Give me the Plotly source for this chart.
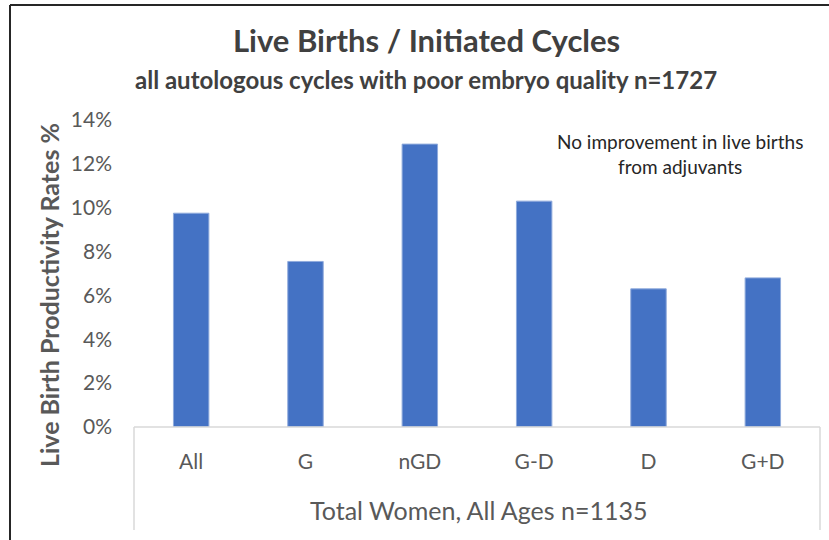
import plotly.graph_objs as go

# values (percent)
categories = ["All", "G", "nGD", "G-D", "D", "G+D"]
live_birth_rates = [9.75, 7.55, 12.9, 10.3, 6.3, 6.8]
y_ticks = [0, 2, 4, 6, 8, 10, 12, 14]
y_tick_labels = [f"{t}%" for t in y_ticks]

W, H = 829, 540
L, R, T, B = 134, 9, 120, 113
FONT = "Lato, Open Sans, sans-serif"
BAR_COLOR = "#4472C4"
TEXT_COLOR = "#595959"


def px_x(x):
    return (x - L) / (W - L - R)


def px_y(y):
    return (H - B - y) / (H - T - B)


fig = go.Figure()
fig.add_trace(go.Bar(
    x=categories,
    y=live_birth_rates,
    marker=dict(color=BAR_COLOR, line=dict(color="#8faadc", width=1)),
    showlegend=False
))

fig.update_layout(
    width=W,
    height=H,
    margin=dict(l=L, r=R, t=T, b=B),
    paper_bgcolor="white",
    plot_bgcolor="white",
    bargap=0.69,
    font=dict(family=FONT, color=TEXT_COLOR),
)
fig.update_yaxes(
    range=[0, 14],
    tickvals=y_ticks,
    ticktext=y_tick_labels,
    showgrid=False,
    zeroline=False,
    tickfont=dict(size=21, color=TEXT_COLOR),
    ticks="",
    ticklabelstandoff=21,
)
fig.update_xaxes(
    showline=False,
    tickfont=dict(size=21, color=TEXT_COLOR),
    ticks="",
    ticklabelstandoff=20,
)

annotations = [
    dict(text="<b>Live Births / Initiated Cycles</b>", x=px_x(426), y=px_y(40),
         font=dict(size=31, color="#404040")),
    dict(text="<b>all autologous cycles with poor embryo quality n=1727</b>", x=px_x(426), y=px_y(80),
         font=dict(size=24, color="#404040")),
    dict(text="<b>Live Birth Productivity Rates %</b>", x=px_x(49), y=px_y(295), textangle=-90,
         font=dict(size=25, color=TEXT_COLOR)),
    dict(text="Total Women, All Ages n=1135", x=px_x(478), y=px_y(510),
         font=dict(size=25, color=TEXT_COLOR)),
    dict(text="No improvement in live births<br>from adjuvants", x=px_x(680), y=px_y(154),
         font=dict(size=19, color="#262626")),
]
for a in annotations:
    fig.add_annotation(xref="paper", yref="paper", showarrow=False,
                       xanchor="center", yanchor="middle", **a)

# category axis box and the outer chart border
grey = dict(color="#d9d9d9", width=1.5)
fig.add_shape(type="line", xref="paper", yref="paper", x0=0, x1=1, y0=0, y1=0, line=grey)
fig.add_shape(type="line", xref="paper", yref="paper", x0=0, x1=0, y0=0, y1=px_y(530), line=grey)
fig.add_shape(type="line", xref="paper", yref="paper", x0=1, x1=1, y0=0, y1=px_y(530), line=grey)
dark = dict(color="#262626", width=2)
fig.add_shape(type="line", xref="paper", yref="paper", x0=px_x(10), x1=px_x(829), y0=px_y(5), y1=px_y(5), line=dark)
fig.add_shape(type="line", xref="paper", yref="paper", x0=px_x(10), x1=px_x(10), y0=px_y(5), y1=px_y(540), line=dark)

# drop the default body margin so the figure sits at the page corner
fig.write_html("out.html", config={"displayModeBar": False},
               post_script="document.body.style.margin = '0';")
